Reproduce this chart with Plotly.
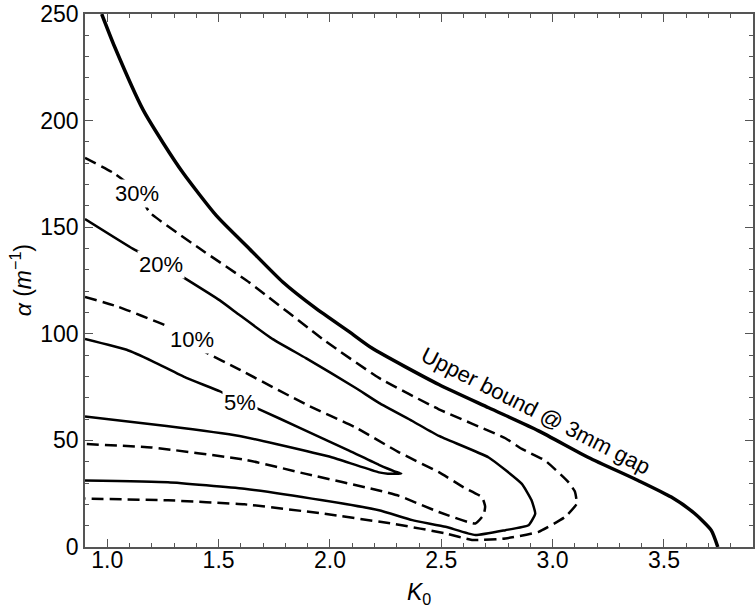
import plotly.graph_objects as go

# ---- data ----
upper_k = [0.975, 1.034, 1.161, 1.251, 1.34, 1.49, 1.639, 1.788, 1.937, 2.086, 2.19, 2.489, 2.713, 2.937, 3.161, 3.384, 3.533, 3.638, 3.712, 3.742]
upper_a = [250, 234.4, 205, 189.5, 175.5, 155.4, 139.8, 124.3, 111.9, 101, 93.2, 76.2, 65.3, 54.5, 42, 31.2, 23.4, 15.7, 7.9, 0]

p30_k = [0.9, 1.027, 1.133, 1.191, 1.415, 1.639, 1.982, 2.22, 2.489, 2.788, 2.862, 2.967, 3.071, 3.1, 3.108, 3.056, 2.937, 2.788, 2.638, 2.519, 2.295, 1.967, 1.616, 1.273, 0.9]
p30_a = [182.5, 175.5, 167, 156.9, 140, 124, 96.4, 79.3, 64.6, 51, 46, 40.5, 30.4, 26, 20.3, 14.1, 7.1, 4, 3.3, 6.4, 10.7, 15.7, 20, 21.9, 22.7]

p20_k = [0.9, 1.116, 1.24, 1.34, 1.504, 1.594, 1.743, 1.892, 2.116, 2.22, 2.37, 2.489, 2.713, 2.862, 2.905, 2.922, 2.892, 2.788, 2.653, 2.519, 2.37, 2.22, 1.967, 1.616, 1.273, 0.9]
p20_a = [153.8, 139.8, 133, 126.6, 115.8, 108.8, 97.5, 88.6, 74.6, 67.6, 59.1, 52.1, 42, 29.6, 22, 15.7, 10.2, 7.9, 5.6, 9.5, 12.6, 17.2, 21.9, 27.3, 30.4, 31.2]

p10_k = [0.9, 1.049, 1.258, 1.38, 1.437, 1.594, 1.892, 2.116, 2.31, 2.489, 2.60, 2.683, 2.697, 2.69, 2.653, 2.489, 2.31, 2.22, 1.892, 1.616, 1.198, 0.9]
p10_a = [117.3, 112.7, 104.1, 98, 91.7, 83.2, 66.9, 56, 44.4, 35.1, 28, 23.4, 19, 15, 11, 16.4, 24, 26.5, 34.3, 41, 46.7, 48.3]

p5_k = [0.9, 1.087, 1.206, 1.355, 1.504, 1.594, 1.683, 1.862, 2.086, 2.22, 2.29, 2.32, 2.26, 2.22, 2.011, 1.758, 1.594, 1.266, 0.9]
p5_a = [97.6, 92.5, 87, 79.3, 73.1, 68.5, 64.6, 56, 45.2, 38.5, 35.5, 34.5, 34.4, 35, 42, 48.3, 52.1, 56.8, 61.2]

labels = ["30%", "20%", "10%", "5%"]
label_k = [1.133, 1.24, 1.379, 1.594]
label_a = [165.7, 132.7, 97.5, 67.7]

bound_label = "Upper bound @ 3mm gap"
bound_label_k = 2.922
bound_label_a = 63.8

x_ticks = [1.0, 1.5, 2.0, 2.5, 3.0, 3.5]
y_ticks = [0, 50, 100, 150, 200, 250]

# ---- figure ----
FONT = "Liberation Sans, Arial, Helvetica, sans-serif"
DASH = "12px,6px"
fig = go.Figure()

fig.add_trace(go.Scatter(x=upper_k, y=upper_a, mode="lines",
                         line=dict(color="black", width=3.5, shape="spline", smoothing=0.6)))
for ks, as_, dash in [(p30_k, p30_a, DASH), (p20_k, p20_a, "solid"),
                      (p10_k, p10_a, DASH), (p5_k, p5_a, "solid")]:
    fig.add_trace(go.Scatter(x=ks, y=as_, mode="lines",
                             line=dict(color="black", width=2.5, dash=dash,
                                       shape="spline", smoothing=0.4)))

for t, k, a in zip(labels, label_k, label_a):
    fig.add_annotation(x=k, y=a, text=t, showarrow=False, bgcolor="white",
                       borderpad=1, font=dict(size=22, color="black", family=FONT))

fig.add_annotation(x=bound_label_k, y=bound_label_a, text=bound_label, showarrow=False,
                   textangle=27, font=dict(size=22, color="black", family=FONT))

# axis titles
fig.add_annotation(xref="paper", yref="paper", x=0.5, y=-0.088, text="<i>K</i><sub>0</sub>",
                   showarrow=False, yanchor="middle", font=dict(size=23, color="black", family=FONT))
fig.add_annotation(xref="paper", yref="paper", x=-0.096, y=0.5, text="<i>α</i> (<i>m</i><sup>−1</sup>)",
                   showarrow=False, textangle=-90, xanchor="center", yanchor="middle",
                   font=dict(size=23, color="black", family=FONT))

axis_common = dict(showgrid=False, zeroline=False, showline=True, linecolor="#555", linewidth=1.5,
                   ticks="inside", ticklen=8, tickwidth=1.2, tickcolor="#555", mirror="allticks",
                   ticklabeloverflow="allow",
                   tickfont=dict(size=23, color="black", family=FONT))
fig.update_xaxes(range=[0.9, 3.9], tickvals=x_ticks, ticktext=[f"{v:.1f}" for v in x_ticks],
                 ticklabelstandoff=-8,
                 minor=dict(dtick=0.1, tick0=0.9, ticks="inside", ticklen=4.5, tickcolor="#555", tickwidth=1),
                 **axis_common)
fig.update_yaxes(range=[0, 250], tickvals=y_ticks,
                 minor=dict(dtick=10, tick0=0, ticks="inside", ticklen=4.5, tickcolor="#555", tickwidth=1),
                 **axis_common)

fig.update_layout(width=756, height=611, margin=dict(l=85, r=1, t=10, b=64),
                  plot_bgcolor="white", paper_bgcolor="white", showlegend=False,
                  font=dict(family=FONT, color="black"))

fig.write_html("out.html", config={"displayModeBar": False},
               post_script="document.body.style.margin='0';document.body.style.overflow='hidden';")
